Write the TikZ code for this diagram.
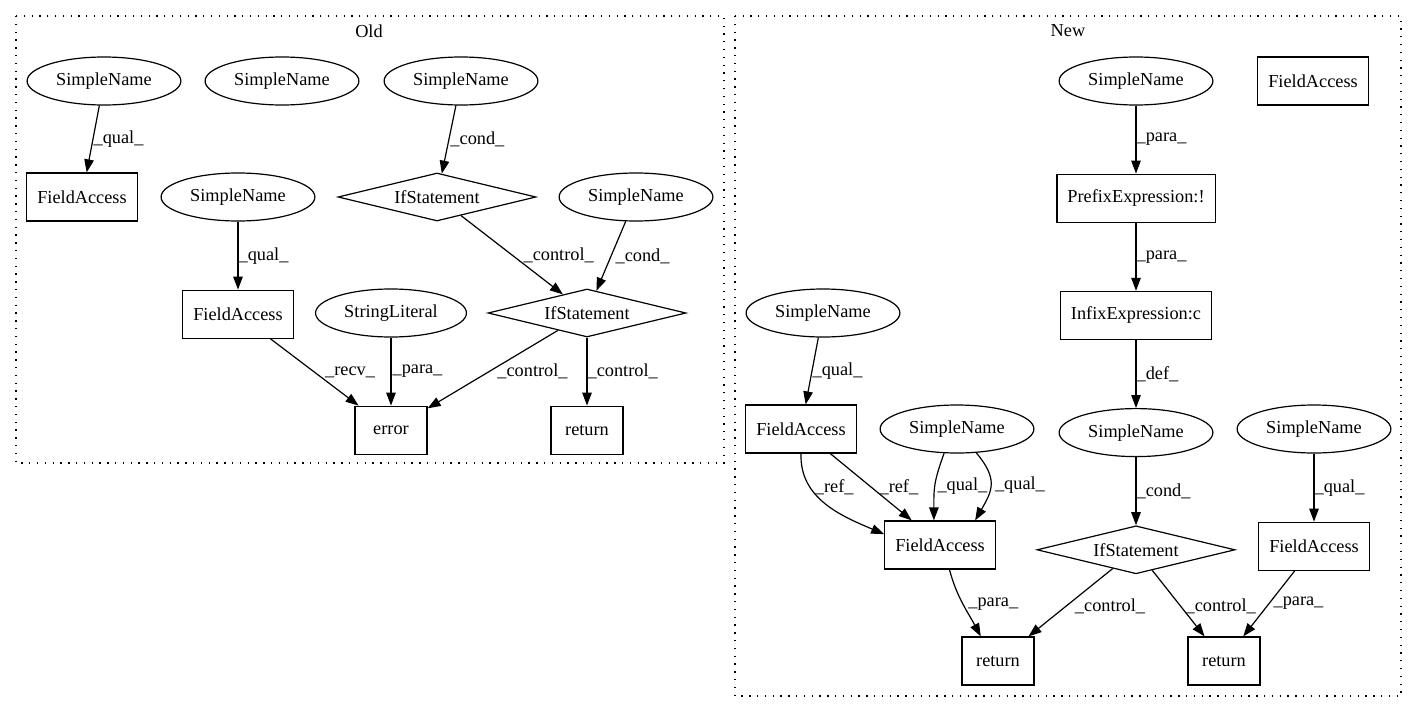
\documentclass[tikz,border=0pt]{standalone}
\usepackage{fontspec}
\setmainfont{Liberation Serif}
\usetikzlibrary{positioning}
\usetikzlibrary{shapes.geometric}
\usetikzlibrary{arrows.meta}

\begin{document}
\begin{tikzpicture}[x=1pt, y=-1pt, node distance=68pt,
    font=\fontsize{18.3}{22}\selectfont,
    sname/.style={draw, ellipse, line width=1.2pt, inner xsep=6.6pt, inner ysep=0pt, minimum height=48pt},
    astbox/.style={draw, rectangle, line width=1.2pt, inner xsep=10.5pt, minimum width=72pt, minimum height=48pt},
    ifnode/.style={draw, diamond, aspect=4, line width=1.2pt, inner sep=0pt, minimum width=198pt, minimum height=48pt},
    arrow/.style={-{Triangle[length=13pt,width=9.5pt]}, line width=1.2pt},
    lbl/.style={anchor=west, inner sep=0pt},
    cluster/.style={line width=1.3pt, dash pattern=on 1.3pt off 6.5pt},
]
\useasboundingbox (0,0) rectangle (1419,712);

% Old
\draw[cluster] (16,16) rectangle (724,463);
\node (oldtitle) at (369,31) {Old};

\node[sname] (sn1) at (104,81) {SimpleName};
\node[sname] (sn2) at (282,81) {SimpleName};
\node[sname] (sn3) at (461,81) {SimpleName};
\node[astbox] (fa1) at (82,197) {FieldAccess};
\node[sname] (sn4) at (238,197) {SimpleName};
\node[ifnode] (if1) at (437,197) {IfStatement};
\node[sname] (sn5) at (636,197) {SimpleName};
\node[astbox, below=of sn4] (fa2) {FieldAccess};
\node[sname] (strlit) at (391,313) {StringLiteral};
\node[ifnode] (if2) at (587,313) {IfStatement};
\node[astbox, below=of strlit] (err) {error};
\node[astbox, below=of if2] (ret) {return};

\draw[arrow] (sn1) -- node[lbl]{\_qual\_} (fa1);
\draw[arrow] (sn3) -- node[lbl, xshift=1pt]{\_cond\_} (if1);
\draw[arrow] (sn4) -- node[lbl]{\_qual\_} (fa2);
\draw[arrow] (if1) -- node[lbl, xshift=11pt]{\_control\_} (if2);
\draw[arrow] (sn5) -- node[lbl, xshift=4pt]{\_cond\_} (if2);
\draw[arrow] (fa2) -- node[lbl, xshift=10pt]{\_recv\_} (err);
\draw[arrow] (strlit) -- node[lbl, xshift=1pt]{\_para\_} (err);
\draw[arrow] (if2) -- node[lbl, pos=.53, xshift=8pt]{\_control\_} (err);
\draw[arrow] (if2) -- node[lbl]{\_control\_} (ret);

% New
\draw[cluster] (735,16) rectangle (1401,696);
\node (newtitle) at (1068,31) {New};

\node[sname] (sna) at (1136,81) {SimpleName};
\node[astbox] (fatop) at (1313,81) {FieldAccess};
\node[astbox, below=of sna] (prefix) {PrefixExpression:!};
\node[astbox, below=of prefix] (infix) {InfixExpression:c};
\node[sname] (snb) at (823,313) {SimpleName};
\node[astbox] (fal) at (801,429) {FieldAccess};
\node[sname] (snc) at (957,429) {SimpleName};
\node[sname, below=of infix] (snd) {SimpleName};
\node[sname] (sne) at (1314,429) {SimpleName};
\node[astbox] (fam) at (940,545) {FieldAccess};
\node[ifnode, below=of snd] (ifn) {IfStatement};
\node[astbox, below=of sne] (far) {FieldAccess};
\node[astbox] (ret1) at (998,661) {return};
\node[astbox] (ret2) at (1224,661) {return};

\draw[arrow] (sna) -- node[lbl]{\_para\_} (prefix);
\draw[arrow] (prefix) -- node[lbl]{\_para\_} (infix);
\draw[arrow] (infix) -- node[lbl]{\_def\_} (snd);
\draw[arrow] (snb) -- node[lbl]{\_qual\_} (fal);
\draw[arrow] (fal.south) to[out=-92, in=157] node[lbl, pos=.3, xshift=4pt]{\_ref\_} (fam.169);
\draw[arrow] (fal.-40) -- node[lbl, xshift=8pt]{\_ref\_} (fam.139);
\draw[arrow] (snc.-118) to[out=-110, in=90, looseness=1.2] node[lbl, xshift=2pt]{\_qual\_} (fam.104);
\draw[arrow] (snc.-51) to[out=-50, in=60, looseness=1.3] node[lbl, xshift=4pt]{\_qual\_} (fam.35);
\draw[arrow] (snd) -- node[lbl]{\_cond\_} (ifn);
\draw[arrow] (sne) -- node[lbl]{\_qual\_} (far);
\draw[arrow] (fam.-69) to[out=-75, in=118] node[lbl, xshift=5pt]{\_para\_} (ret1.125);
\draw[arrow] (ifn) -- node[lbl, pos=.55, xshift=8pt]{\_control\_} (ret1);
\draw[arrow] (ifn) -- node[lbl, pos=.55, xshift=4pt]{\_control\_} (ret2);
\draw[arrow] (far) -- node[lbl, xshift=4pt]{\_para\_} (ret2);

\end{tikzpicture}
\end{document}
